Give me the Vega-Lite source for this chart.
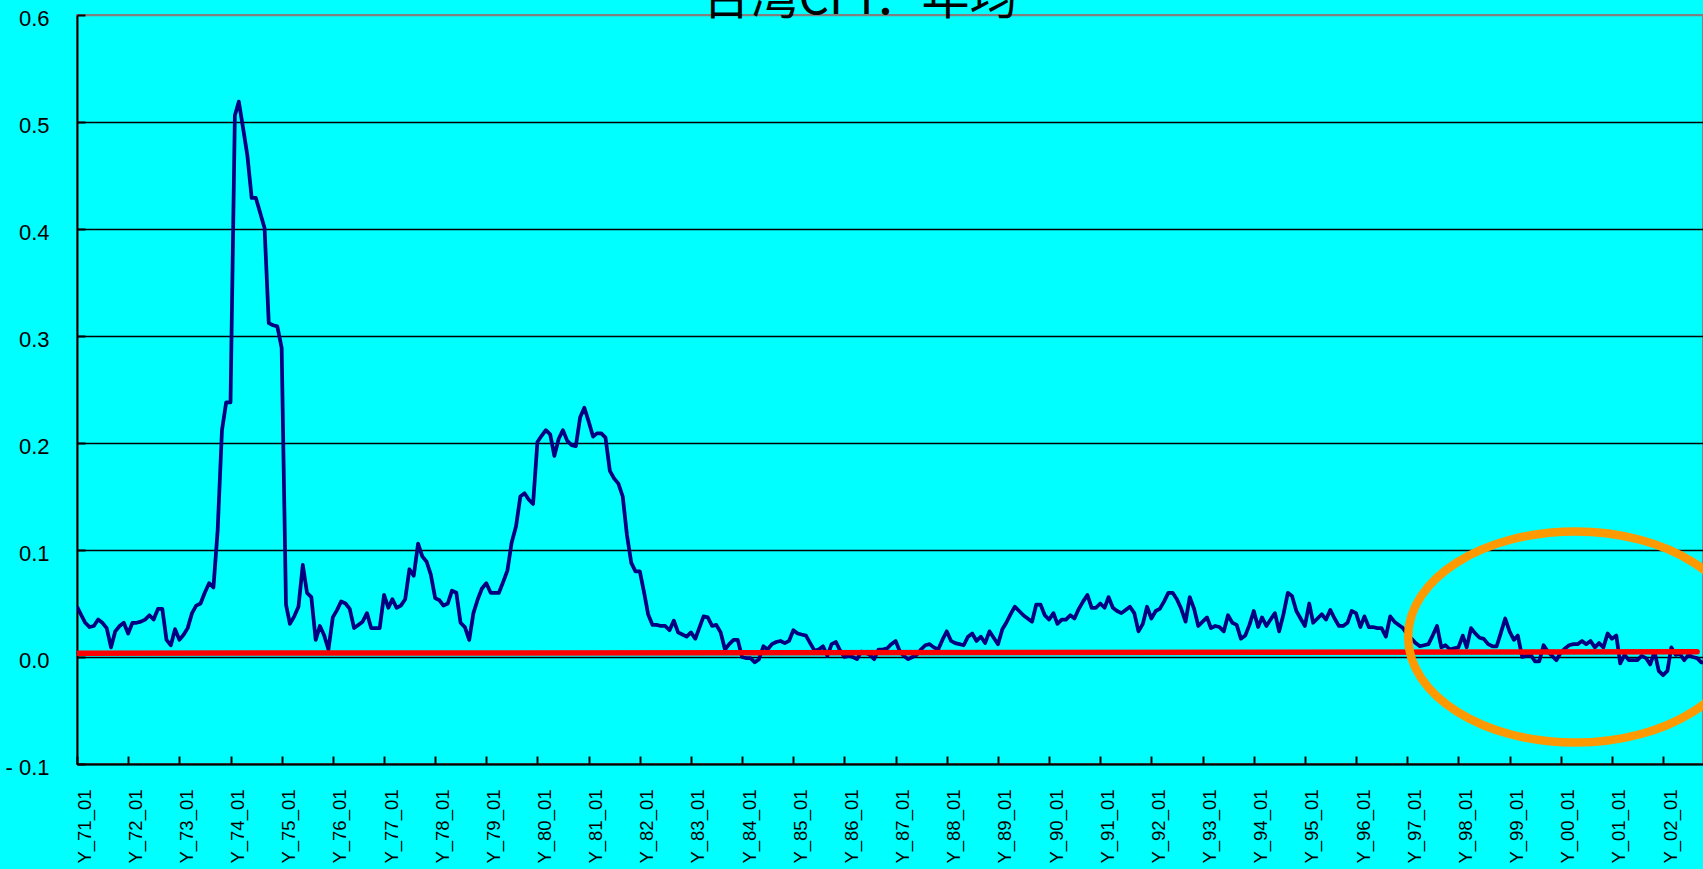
{
  "$schema": "https://vega.github.io/schema/vega-lite/v6.json",
  "width": 1626,
  "height": 749,
  "autosize": {"type": "none"},
  "padding": {"left": 77, "top": 15, "right": 0, "bottom": 105},
  "background": "#00FFFF",
  "title": {"text": "台湾CPI：年均", "fontSize": 48, "font": "Noto Sans CJK SC", "fontWeight": "normal", "color": "#000000", "anchor": "middle", "baseline": "alphabetic", "offset": -55, "dx": -30},
  "config": {"view": {"stroke": "#808080", "strokeWidth": 2}},
  "datasets": {
    "cpi": [
      {"d":"1971-01","v":0.047},{"d":"1971-02","v":0.039},{"d":"1971-03","v":0.032},{"d":"1971-04","v":0.028},{"d":"1971-05","v":0.029},{"d":"1971-06","v":0.035},{"d":"1971-07","v":0.032},{"d":"1971-08","v":0.027},{"d":"1971-09","v":0.009},{"d":"1971-10","v":0.024},{"d":"1971-11","v":0.029},{"d":"1971-12","v":0.032},
      {"d":"1972-01","v":0.022},{"d":"1972-02","v":0.032},{"d":"1972-03","v":0.032},{"d":"1972-04","v":0.033},{"d":"1972-05","v":0.035},{"d":"1972-06","v":0.039},{"d":"1972-07","v":0.035},{"d":"1972-08","v":0.045},{"d":"1972-09","v":0.045},{"d":"1972-10","v":0.016},{"d":"1972-11","v":0.011},{"d":"1972-12","v":0.026},
      {"d":"1973-01","v":0.016},{"d":"1973-02","v":0.021},{"d":"1973-03","v":0.027},{"d":"1973-04","v":0.041},{"d":"1973-05","v":0.048},{"d":"1973-06","v":0.050},{"d":"1973-07","v":0.060},{"d":"1973-08","v":0.069},{"d":"1973-09","v":0.065},{"d":"1973-10","v":0.118},{"d":"1973-11","v":0.212},{"d":"1973-12","v":0.238},
      {"d":"1974-01","v":0.238},{"d":"1974-02","v":0.506},{"d":"1974-03","v":0.519},{"d":"1974-04","v":0.494},{"d":"1974-05","v":0.469},{"d":"1974-06","v":0.429},{"d":"1974-07","v":0.429},{"d":"1974-08","v":0.415},{"d":"1974-09","v":0.401},{"d":"1974-10","v":0.312},{"d":"1974-11","v":0.310},{"d":"1974-12","v":0.309},
      {"d":"1975-01","v":0.289},{"d":"1975-02","v":0.049},{"d":"1975-03","v":0.031},{"d":"1975-04","v":0.038},{"d":"1975-05","v":0.047},{"d":"1975-06","v":0.086},{"d":"1975-07","v":0.060},{"d":"1975-08","v":0.056},{"d":"1975-09","v":0.016},{"d":"1975-10","v":0.029},{"d":"1975-11","v":0.020},{"d":"1975-12","v":0.007},
      {"d":"1976-01","v":0.037},{"d":"1976-02","v":0.044},{"d":"1976-03","v":0.052},{"d":"1976-04","v":0.050},{"d":"1976-05","v":0.045},{"d":"1976-06","v":0.027},{"d":"1976-07","v":0.030},{"d":"1976-08","v":0.033},{"d":"1976-09","v":0.041},{"d":"1976-10","v":0.027},{"d":"1976-11","v":0.027},{"d":"1976-12","v":0.027},
      {"d":"1977-01","v":0.058},{"d":"1977-02","v":0.046},{"d":"1977-03","v":0.054},{"d":"1977-04","v":0.046},{"d":"1977-05","v":0.048},{"d":"1977-06","v":0.054},{"d":"1977-07","v":0.082},{"d":"1977-08","v":0.076},{"d":"1977-09","v":0.106},{"d":"1977-10","v":0.094},{"d":"1977-11","v":0.089},{"d":"1977-12","v":0.077},
      {"d":"1978-01","v":0.055},{"d":"1978-02","v":0.053},{"d":"1978-03","v":0.048},{"d":"1978-04","v":0.050},{"d":"1978-05","v":0.062},{"d":"1978-06","v":0.060},{"d":"1978-07","v":0.032},{"d":"1978-08","v":0.028},{"d":"1978-09","v":0.016},{"d":"1978-10","v":0.041},{"d":"1978-11","v":0.054},{"d":"1978-12","v":0.064},
      {"d":"1979-01","v":0.069},{"d":"1979-02","v":0.060},{"d":"1979-03","v":0.060},{"d":"1979-04","v":0.060},{"d":"1979-05","v":0.070},{"d":"1979-06","v":0.081},{"d":"1979-07","v":0.107},{"d":"1979-08","v":0.122},{"d":"1979-09","v":0.150},{"d":"1979-10","v":0.153},{"d":"1979-11","v":0.147},{"d":"1979-12","v":0.143},
      {"d":"1980-01","v":0.201},{"d":"1980-02","v":0.207},{"d":"1980-03","v":0.212},{"d":"1980-04","v":0.208},{"d":"1980-05","v":0.188},{"d":"1980-06","v":0.204},{"d":"1980-07","v":0.212},{"d":"1980-08","v":0.202},{"d":"1980-09","v":0.198},{"d":"1980-10","v":0.197},{"d":"1980-11","v":0.224},{"d":"1980-12","v":0.233},
      {"d":"1981-01","v":0.220},{"d":"1981-02","v":0.206},{"d":"1981-03","v":0.209},{"d":"1981-04","v":0.209},{"d":"1981-05","v":0.205},{"d":"1981-06","v":0.174},{"d":"1981-07","v":0.167},{"d":"1981-08","v":0.162},{"d":"1981-09","v":0.150},{"d":"1981-10","v":0.114},{"d":"1981-11","v":0.088},{"d":"1981-12","v":0.080},
      {"d":"1982-01","v":0.080},{"d":"1982-02","v":0.060},{"d":"1982-03","v":0.040},{"d":"1982-04","v":0.030},{"d":"1982-05","v":0.030},{"d":"1982-06","v":0.029},{"d":"1982-07","v":0.029},{"d":"1982-08","v":0.025},{"d":"1982-09","v":0.034},{"d":"1982-10","v":0.023},{"d":"1982-11","v":0.021},{"d":"1982-12","v":0.019},
      {"d":"1983-01","v":0.023},{"d":"1983-02","v":0.017},{"d":"1983-03","v":0.027},{"d":"1983-04","v":0.038},{"d":"1983-05","v":0.037},{"d":"1983-06","v":0.029},{"d":"1983-07","v":0.030},{"d":"1983-08","v":0.023},{"d":"1983-09","v":0.007},{"d":"1983-10","v":0.012},{"d":"1983-11","v":0.016},{"d":"1983-12","v":0.016},
      {"d":"1984-01","v":0.000},{"d":"1984-02","v":-0.001},{"d":"1984-03","v":-0.001},{"d":"1984-04","v":-0.005},{"d":"1984-05","v":-0.002},{"d":"1984-06","v":0.010},{"d":"1984-07","v":0.007},{"d":"1984-08","v":0.012},{"d":"1984-09","v":0.014},{"d":"1984-10","v":0.015},{"d":"1984-11","v":0.013},{"d":"1984-12","v":0.015},
      {"d":"1985-01","v":0.025},{"d":"1985-02","v":0.022},{"d":"1985-03","v":0.021},{"d":"1985-04","v":0.020},{"d":"1985-05","v":0.013},{"d":"1985-06","v":0.006},{"d":"1985-07","v":0.007},{"d":"1985-08","v":0.010},{"d":"1985-09","v":0.001},{"d":"1985-10","v":0.012},{"d":"1985-11","v":0.014},{"d":"1985-12","v":0.006},
      {"d":"1986-01","v":0.000},{"d":"1986-02","v":0.001},{"d":"1986-03","v":0.000},{"d":"1986-04","v":-0.002},{"d":"1986-05","v":0.005},{"d":"1986-06","v":0.004},{"d":"1986-07","v":0.002},{"d":"1986-08","v":-0.002},{"d":"1986-09","v":0.007},{"d":"1986-10","v":0.007},{"d":"1986-11","v":0.008},{"d":"1986-12","v":0.012},
      {"d":"1987-01","v":0.015},{"d":"1987-02","v":0.005},{"d":"1987-03","v":0.001},{"d":"1987-04","v":-0.002},{"d":"1987-05","v":0.000},{"d":"1987-06","v":0.002},{"d":"1987-07","v":0.007},{"d":"1987-08","v":0.011},{"d":"1987-09","v":0.012},{"d":"1987-10","v":0.009},{"d":"1987-11","v":0.007},{"d":"1987-12","v":0.016},
      {"d":"1988-01","v":0.024},{"d":"1988-02","v":0.015},{"d":"1988-03","v":0.013},{"d":"1988-04","v":0.012},{"d":"1988-05","v":0.011},{"d":"1988-06","v":0.019},{"d":"1988-07","v":0.022},{"d":"1988-08","v":0.015},{"d":"1988-09","v":0.019},{"d":"1988-10","v":0.013},{"d":"1988-11","v":0.024},{"d":"1988-12","v":0.018},
      {"d":"1989-01","v":0.012},{"d":"1989-02","v":0.026},{"d":"1989-03","v":0.032},{"d":"1989-04","v":0.040},{"d":"1989-05","v":0.047},{"d":"1989-06","v":0.043},{"d":"1989-07","v":0.039},{"d":"1989-08","v":0.036},{"d":"1989-09","v":0.033},{"d":"1989-10","v":0.049},{"d":"1989-11","v":0.049},{"d":"1989-12","v":0.039},
      {"d":"1990-01","v":0.035},{"d":"1990-02","v":0.041},{"d":"1990-03","v":0.031},{"d":"1990-04","v":0.035},{"d":"1990-05","v":0.035},{"d":"1990-06","v":0.039},{"d":"1990-07","v":0.036},{"d":"1990-08","v":0.045},{"d":"1990-09","v":0.052},{"d":"1990-10","v":0.058},{"d":"1990-11","v":0.046},{"d":"1990-12","v":0.046},
      {"d":"1991-01","v":0.050},{"d":"1991-02","v":0.046},{"d":"1991-03","v":0.056},{"d":"1991-04","v":0.046},{"d":"1991-05","v":0.043},{"d":"1991-06","v":0.041},{"d":"1991-07","v":0.044},{"d":"1991-08","v":0.047},{"d":"1991-09","v":0.041},{"d":"1991-10","v":0.024},{"d":"1991-11","v":0.031},{"d":"1991-12","v":0.047},
      {"d":"1992-01","v":0.036},{"d":"1992-02","v":0.043},{"d":"1992-03","v":0.045},{"d":"1992-04","v":0.052},{"d":"1992-05","v":0.060},{"d":"1992-06","v":0.060},{"d":"1992-07","v":0.054},{"d":"1992-08","v":0.045},{"d":"1992-09","v":0.033},{"d":"1992-10","v":0.056},{"d":"1992-11","v":0.045},{"d":"1992-12","v":0.029},
      {"d":"1993-01","v":0.033},{"d":"1993-02","v":0.037},{"d":"1993-03","v":0.027},{"d":"1993-04","v":0.029},{"d":"1993-05","v":0.028},{"d":"1993-06","v":0.024},{"d":"1993-07","v":0.039},{"d":"1993-08","v":0.032},{"d":"1993-09","v":0.030},{"d":"1993-10","v":0.017},{"d":"1993-11","v":0.020},{"d":"1993-12","v":0.030},
      {"d":"1994-01","v":0.043},{"d":"1994-02","v":0.028},{"d":"1994-03","v":0.037},{"d":"1994-04","v":0.029},{"d":"1994-05","v":0.035},{"d":"1994-06","v":0.041},{"d":"1994-07","v":0.024},{"d":"1994-08","v":0.040},{"d":"1994-09","v":0.060},{"d":"1994-10","v":0.057},{"d":"1994-11","v":0.043},{"d":"1994-12","v":0.036},
      {"d":"1995-01","v":0.029},{"d":"1995-02","v":0.050},{"d":"1995-03","v":0.032},{"d":"1995-04","v":0.036},{"d":"1995-05","v":0.040},{"d":"1995-06","v":0.035},{"d":"1995-07","v":0.044},{"d":"1995-08","v":0.036},{"d":"1995-09","v":0.029},{"d":"1995-10","v":0.029},{"d":"1995-11","v":0.032},{"d":"1995-12","v":0.043},
      {"d":"1996-01","v":0.041},{"d":"1996-02","v":0.028},{"d":"1996-03","v":0.038},{"d":"1996-04","v":0.028},{"d":"1996-05","v":0.028},{"d":"1996-06","v":0.027},{"d":"1996-07","v":0.027},{"d":"1996-08","v":0.019},{"d":"1996-09","v":0.038},{"d":"1996-10","v":0.033},{"d":"1996-11","v":0.030},{"d":"1996-12","v":0.027},
      {"d":"1997-01","v":0.021},{"d":"1997-02","v":0.017},{"d":"1997-03","v":0.013},{"d":"1997-04","v":0.010},{"d":"1997-05","v":0.011},{"d":"1997-06","v":0.012},{"d":"1997-07","v":0.020},{"d":"1997-08","v":0.029},{"d":"1997-09","v":0.009},{"d":"1997-10","v":0.011},{"d":"1997-11","v":0.007},{"d":"1997-12","v":0.008},
      {"d":"1998-01","v":0.009},{"d":"1998-02","v":0.020},{"d":"1998-03","v":0.009},{"d":"1998-04","v":0.027},{"d":"1998-05","v":0.022},{"d":"1998-06","v":0.018},{"d":"1998-07","v":0.017},{"d":"1998-08","v":0.012},{"d":"1998-09","v":0.010},{"d":"1998-10","v":0.010},{"d":"1998-11","v":0.023},{"d":"1998-12","v":0.036},
      {"d":"1999-01","v":0.024},{"d":"1999-02","v":0.016},{"d":"1999-03","v":0.020},{"d":"1999-04","v":0.000},{"d":"1999-05","v":0.001},{"d":"1999-06","v":0.002},{"d":"1999-07","v":-0.004},{"d":"1999-08","v":-0.004},{"d":"1999-09","v":0.011},{"d":"1999-10","v":0.005},{"d":"1999-11","v":0.001},{"d":"1999-12","v":-0.003},
      {"d":"2000-01","v":0.004},{"d":"2000-02","v":0.008},{"d":"2000-03","v":0.011},{"d":"2000-04","v":0.012},{"d":"2000-05","v":0.012},{"d":"2000-06","v":0.015},{"d":"2000-07","v":0.012},{"d":"2000-08","v":0.015},{"d":"2000-09","v":0.009},{"d":"2000-10","v":0.013},{"d":"2000-11","v":0.009},{"d":"2000-12","v":0.022},
      {"d":"2001-01","v":0.017},{"d":"2001-02","v":0.020},{"d":"2001-03","v":-0.006},{"d":"2001-04","v":0.002},{"d":"2001-05","v":-0.003},{"d":"2001-06","v":-0.003},{"d":"2001-07","v":-0.003},{"d":"2001-08","v":0.001},{"d":"2001-09","v":-0.001},{"d":"2001-10","v":-0.007},{"d":"2001-11","v":0.005},{"d":"2001-12","v":-0.013},
      {"d":"2002-01","v":-0.017},{"d":"2002-02","v":-0.013},{"d":"2002-03","v":0.009},{"d":"2002-04","v":0.002},{"d":"2002-05","v":0.003},{"d":"2002-06","v":-0.003},{"d":"2002-07","v":0.002},{"d":"2002-08","v":0.000},{"d":"2002-09","v":-0.001},{"d":"2002-10","v":-0.005},{"d":"2002-11","v":-0.005}
    ],
    "trend": [
      {"d": "1971-01", "v": 0.0035},
      {"d": "2002-09", "v": 0.0048}
    ],
    "highlight": [
      {"d": "2000-04-13", "v": 0.0187}
    ]
  },
  "encoding": {
    "x": {
      "field": "d", "type": "temporal",
      "scale": {"type": "utc", "domain": [{"year": 1971, "month": 1, "date": 1, "utc": true}, {"year": 2002, "month": 10, "date": 13, "utc": true}]},
      "axis": {
        "title": null,
        "tickCount": {"interval": "year", "step": 1},
        "labelExpr": "'Y_' + utcFormat(datum.value, '%y') + '_01'",
        "labelAngle": -90,
        "labelFont": "Liberation Sans", "labelFontSize": 18.5, "labelColor": "#000000",
        "labelPadding": 33, "labelOffset": 7,
        "labelOverlap": false, "labelFlush": false, "labelBound": false,
        "tickSize": -8, "tickColor": "#000000", "tickWidth": 2,
        "domainColor": "#000000", "domainWidth": 2,
        "grid": false
      }
    },
    "y": {
      "field": "v", "type": "quantitative",
      "scale": {"domain": [-0.1, 0.6], "nice": false, "zero": false},
      "axis": {
        "title": null,
        "values": [-0.1, 0, 0.1, 0.2, 0.3, 0.4, 0.5, 0.6],
        "labelExpr": "datum.value < 0 ? '- ' + format(-datum.value, '.1f') : format(datum.value, '.1f')",
        "labelFont": "Liberation Sans", "labelFontSize": 22, "labelColor": "#000000",
        "labelPadding": 36, "labelOffset": 3, "labelFlush": false, "labelBound": false, "labelOverlap": false,
        "tickSize": -8, "tickColor": "#000000", "tickWidth": 2,
        "domainColor": "#000000", "domainWidth": 2,
        "grid": true, "gridOpacity": 1, "gridWidth": 1.5,
        "gridColor": {"condition": {"test": "datum.value >= 0.59", "value": "#808080"}, "value": "#000000"}
      }
    }
  },
  "layer": [
    {"data": {"name": "cpi"}, "mark": {"type": "line", "color": "#000080", "strokeWidth": 3.75, "strokeJoin": "round", "clip": true}},
    {"data": {"name": "trend"}, "mark": {"type": "line", "color": "#FF0000", "strokeWidth": 5.5, "strokeCap": "round", "clip": true}},
    {"data": {"name": "highlight"}, "mark": {"type": "point", "shape": "M-1,0A1,0.632,0,1,1,1,0A1,0.632,0,1,1,-1,0Z", "size": 111556, "filled": false, "color": "#FF9900", "strokeWidth": 8.5, "opacity": 1, "clip": true}}
  ]
}
